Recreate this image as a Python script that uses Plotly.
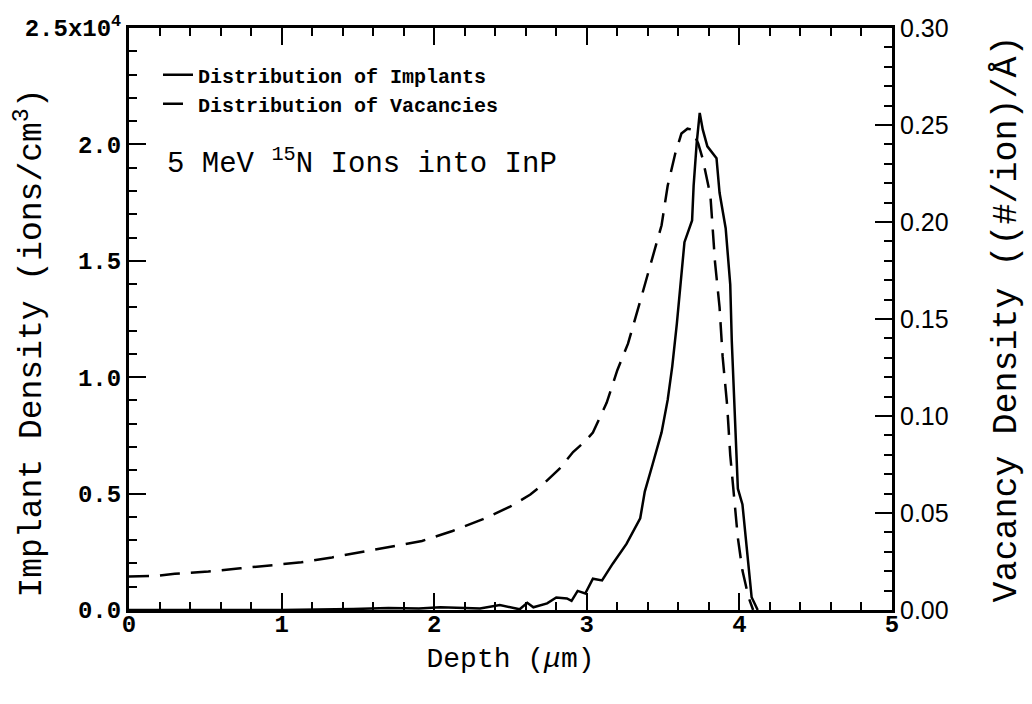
import plotly.graph_objects as go

# Depth (um) and implant density (ions/cm^3) – solid curve, left axis
imp_depth = [0.0, 1.0, 1.47, 1.7, 1.9, 2.04, 2.2, 2.3, 2.43, 2.56, 2.61, 2.65, 2.74, 2.80, 2.87,
             2.90, 2.94, 2.99, 3.04, 3.10, 3.17, 3.26, 3.35, 3.38, 3.43, 3.49, 3.53, 3.56,
             3.59, 3.62, 3.64, 3.69, 3.70, 3.72, 3.74, 3.76, 3.79, 3.85, 3.87, 3.91, 3.94,
             3.95, 3.97, 3.99, 4.02, 4.05, 4.08, 4.12]
imp_density = [0, 0, 40, 90, 60, 115, 90, 60, 212, 30, 310, 115, 285, 540, 495,
               395, 820, 710, 1345, 1270, 1990, 2840, 3940, 5085, 6230, 7630, 9025, 10465,
               12290, 14405, 15800, 16735, 18220, 20040, 21355, 20635, 19915, 19405, 17920, 16400, 13980,
               11565, 8050, 5210, 4535, 2420, 550, 0]

# Depth (um) and vacancy density ((#/ion)/A) – dashed curve, right axis
vac_depth = [0.0, 0.19, 0.30, 0.52, 0.73, 0.94, 1.13, 1.33, 1.53, 1.72, 1.92, 2.12, 2.32,
             2.50, 2.63, 2.71, 2.82, 2.91, 2.99, 3.04, 3.13, 3.20, 3.27, 3.35, 3.40, 3.43,
             3.49, 3.53, 3.58, 3.62, 3.66, 3.69, 3.73, 3.76, 3.81, 3.84, 3.87, 3.89, 3.92,
             3.94, 3.97, 3.99, 4.02, 4.06, 4.09]
vac_density = [0.0173, 0.0176, 0.0187, 0.0198, 0.0215, 0.0232, 0.0246, 0.0271, 0.0300, 0.0325,
               0.0356, 0.0407, 0.0468, 0.0534, 0.0595, 0.0646, 0.0727, 0.0814, 0.0870, 0.0915,
               0.1068, 0.1236, 0.1373, 0.1592, 0.1729, 0.1815, 0.1983, 0.2187, 0.2354, 0.2456,
               0.2481, 0.2476, 0.2405, 0.2324, 0.2136, 0.1795, 0.1561, 0.1307, 0.1053, 0.0798,
               0.0544, 0.0371, 0.0203, 0.0066, 0.0]

left_tickvals = [0, 5000, 10000, 15000, 20000, 25000]
left_ticktext = ["0.0", "0.5", "1.0", "1.5", "2.0", "2.5x10<sup>4</sup>"]
x_tickvals = [0, 1, 2, 3, 4, 5]
right_tickvals = [0.0, 0.05, 0.10, 0.15, 0.20, 0.25, 0.30]

MONO = "Liberation Mono"
SANS = "Liberation Sans"

fig = go.Figure()
fig.add_trace(go.Scatter(x=imp_depth, y=imp_density, mode="lines",
                         name="Distribution of Implants",
                         line=dict(color="black", width=2.5), yaxis="y"))
fig.add_trace(go.Scatter(x=vac_depth, y=vac_density, mode="lines",
                         name="Distribution of Vacancies",
                         line=dict(color="black", width=2.5, dash="20px,11px"), yaxis="y2"))

axis_common = dict(showline=True, linewidth=3, linecolor="black", ticks="inside",
                   tickwidth=2, tickcolor="black", showgrid=False, zeroline=False)

fig.update_layout(
    width=1032, height=704,
    margin=dict(l=129, r=140, t=20, b=94),
    paper_bgcolor="white", plot_bgcolor="white",
    showlegend=True,
    legend=dict(x=0.038, y=0.953, xanchor="left", yanchor="top",
                bgcolor="rgba(0,0,0,0)", borderwidth=0,
                font=dict(family=MONO, size=20, color="black", weight="bold"),
                tracegroupgap=0, itemwidth=30),
    xaxis=dict(range=[0, 5], tickvals=x_tickvals, ticklen=17, mirror="ticks",
               ticklabelstandoff=-10,
               minor=dict(dtick=0.2, ticklen=8, tickwidth=2, ticks="inside", tickcolor="black"),
               title=dict(text="Depth (<i>μ</i>m)", font=dict(family=MONO, size=28, color="black"),
                          standoff=10),
               tickfont=dict(family=MONO, size=24, color="black", weight="bold"),
               **axis_common),
    yaxis=dict(range=[0, 25000], tickvals=left_tickvals, ticktext=left_ticktext, ticklen=17,
               minor=dict(dtick=1000, ticklen=8, tickwidth=2, ticks="inside", tickcolor="black"),
               tickfont=dict(family=MONO, size=24, color="black", weight="bold"),
               **axis_common),
    yaxis2=dict(range=[0, 0.30], tickvals=right_tickvals, tickformat=".2f", ticklen=17,
                overlaying="y", side="right",
                minor=dict(dtick=0.01, ticklen=8, tickwidth=2, ticks="inside", tickcolor="black"),
                title=dict(text="Vacancy Density ((#/ion)/Å)",
                           font=dict(family=MONO, size=35, color="black"), standoff=44),
                tickfont=dict(family=SANS, size=25, color="black"),
                **axis_common),
    annotations=[
        dict(text="Implant Density (ions/cm<sup>3</sup>)", xref="paper", yref="paper",
             x=-0.1297, y=0.458, xanchor="center", yanchor="middle", textangle=-90,
             showarrow=False, font=dict(family=MONO, size=33, color="black")),
        dict(text="5 MeV <sup>15</sup>N Ions into InP", xref="paper", yref="paper",
             x=0.047, y=0.77, xanchor="left", yanchor="middle", showarrow=False,
             font=dict(family=MONO, size=29, color="black")),
    ],
)

fig.write_html("out.html")
